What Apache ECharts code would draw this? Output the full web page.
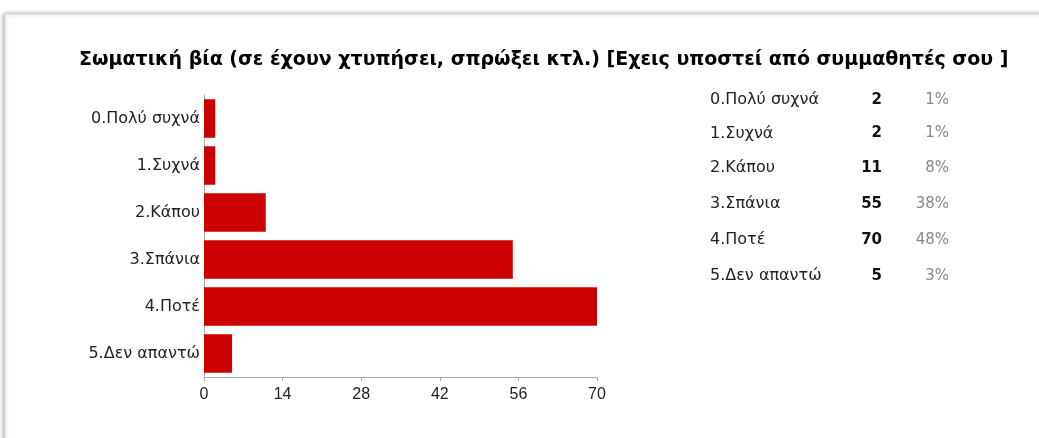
<!DOCTYPE html>
<html>
<head>
<meta charset="utf-8">
<script src="https://cdn.jsdelivr.net/npm/echarts@6/dist/echarts.min.js"></script>
<style>
  html, body { margin: 0; padding: 0; background: #fff; }
  #main { width: 1039px; height: 438px; }
</style>
</head>
<body>
<div id="main"></div>
<script>
var titleText = "Σωματική βία (σε έχουν χτυπήσει, σπρώξει κτλ.) [Εχεις υποστεί από συμμαθητές σου ]";
var categories = ["0.Πολύ συχνά", "1.Συχνά", "2.Κάπου", "3.Σπάνια", "4.Ποτέ", "5.Δεν απαντώ"];
var counts = [2, 2, 11, 55, 70, 5];
var percents = ["1%", "1%", "8%", "38%", "48%", "3%"];
var xTicks = [0, 14, 28, 42, 56, 70];

var font = "DejaVu Sans, Verdana, sans-serif";
var chart = echarts.init(document.getElementById("main"));

// table on the right, one row per answer
var rowY = [100, 133.5, 168, 204, 240, 276];
var tableItems = [];
for (var i = 0; i < categories.length; i++) {
  tableItems.push({
    type: "text", x: 710, y: rowY[i],
    style: { text: categories[i], font: "16px " + font, fill: "#222", verticalAlign: "middle" }
  });
  tableItems.push({
    type: "text", x: 882, y: rowY[i],
    style: { text: String(counts[i]), font: "bold 15px " + font, fill: "#111", align: "right", verticalAlign: "middle" }
  });
  tableItems.push({
    type: "text", x: 949, y: rowY[i],
    style: { text: percents[i], font: "15px " + font, fill: "#888", align: "right", verticalAlign: "middle" }
  });
}

var option = {
  animation: false,
  backgroundColor: "#fff",
  title: {
    text: titleText,
    left: 74, top: 46,
    textStyle: { fontFamily: font, fontSize: 19, fontWeight: "bold", color: "#000" }
  },
  graphic: [
    {
      type: "rect", z: -10, silent: true,
      shape: { x: 5, y: 14, width: 1100, height: 500 },
      style: { fill: "#fff", stroke: "#ddd", lineWidth: 1, shadowBlur: 4, shadowColor: "rgba(0,0,0,0.35)", shadowOffsetX: -1 }
    }
  ].concat(tableItems),
  grid: { left: 204, right: 442, top: 95, bottom: 61 },
  xAxis: {
    type: "value",
    min: xTicks[0], max: xTicks[xTicks.length - 1], interval: xTicks[1] - xTicks[0],
    axisLine: { show: true, lineStyle: { color: "#aaa" } },
    axisTick: { show: true, length: 4, lineStyle: { color: "#aaa" } },
    splitLine: { show: false },
    axisLabel: { color: "#222", fontFamily: "Liberation Sans Narrow, Liberation Sans, Arial, sans-serif", fontSize: 16, margin: 10 }
  },
  yAxis: {
    type: "category",
    data: categories,
    inverse: true,
    axisLine: { show: true, lineStyle: { color: "#aaa" } },
    axisTick: { show: false },
    axisLabel: { color: "#222", fontFamily: font, fontSize: 16, margin: 4, padding: [6, 0, 0, 0] }
  },
  series: [{
    type: "bar",
    data: counts,
    barCategoryGap: "18%",
    itemStyle: { color: "#cc0000" }
  }]
};
chart.setOption(option);
</script>
</body>
</html>
